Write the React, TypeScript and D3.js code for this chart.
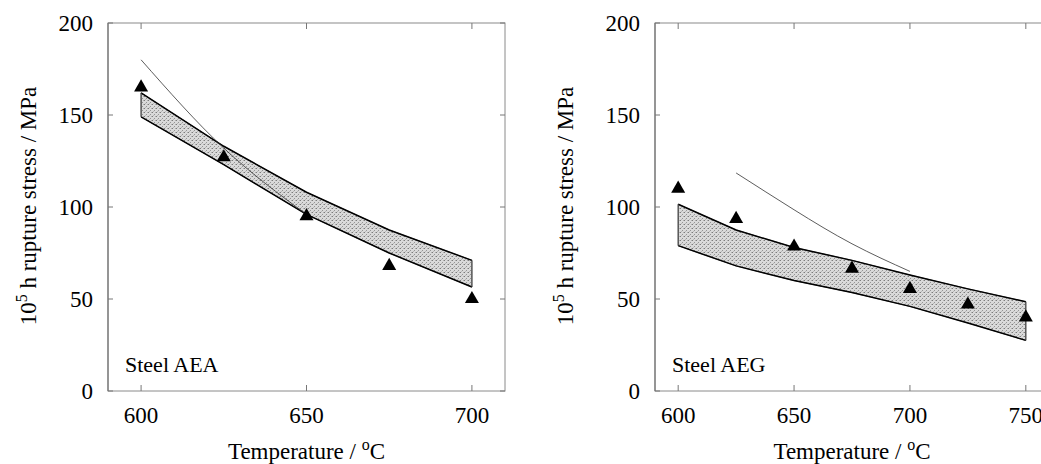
import React from "react";
import * as d3 from "d3";

// temperatures (°C) and 10^5 h rupture stress (MPa)
const aeaTemps = [600, 625, 650, 675, 700];
const aeaPoints = [165, 127, 95, 68, 50];
const aeaUpper = [162, 133, 108, 87.5, 71];
const aeaLower = [149, 123, 96, 75, 56.5];
const aeaLineTemps = [600, 625, 650];
const aeaLine = [180, 132, 96];

const aegTemps = [600, 625, 650, 675, 700, 725, 750];
const aegPoints = [110, 93.5, 78.5, 66.5, 55.5, 47, 40];
const aegUpper = [101.5, 87.5, 78, 71, 63, 55.5, 48.5];
const aegLower = [79, 68, 60, 53.5, 46, 37, 27.5];
const aegLineTemps = [625, 650, 675, 700];
const aegLine = [118.5, 98.5, 80, 65];

const yTicks = [0, 50, 100, 150, 200];
const aeaXTicks = [600, 650, 700];
const aegXTicks = [600, 650, 700, 750];

const FONT = "Liberation Serif, serif";
const txt = { fontFamily: FONT };

type PanelProps = {
  x0: number;
  x1: number;
  domain: [number, number];
  temps: number[];
  points: number[];
  upper: number[];
  lower: number[];
  lineTemps: number[];
  line: number[];
  xTicks: number[];
  label: string;
  yTitleX: number;
  id: string;
};

function Panel(props: PanelProps) {
  const { x0, x1, domain, temps, points, upper, lower, lineTemps, line, xTicks, label, yTitleX, id } = props;
  const top = 23;
  const bottom = 391;

  const x = d3.scaleLinear().domain(domain).range([x0, x1]);
  const y = d3.scaleLinear().domain([0, 200]).range([bottom, top]);

  const band = d3
    .area<number>()
    .x((_, i) => x(temps[i]))
    .y0((_, i) => y(lower[i]))
    .y1((d) => y(d));

  const edge = (vals: number[]) =>
    d3
      .line<number>()
      .x((_, i) => x(temps[i]))
      .y((d) => y(d))(vals) || "";

  const thin =
    d3
      .line<number>()
      .x((_, i) => x(lineTemps[i]))
      .y((d) => y(d))
      .curve(d3.curveNatural)(line) || "";

  const tri = d3.symbol().type(d3.symbolTriangle).size(85)() || "";
  const last = temps.length - 1;

  return (
    <g>
      <defs>
        <pattern id={"stip" + id} width="4" height="4" patternUnits="userSpaceOnUse">
          <rect width="4" height="4" fill="#dadada" />
          <rect x="0" y="0" width="1" height="1" fill="#7c7c7c" />
          <rect x="2" y="2" width="1" height="1" fill="#959595" />
          <rect x="3" y="0" width="1" height="1" fill="#b0b0b0" />
          <rect x="1" y="3" width="1" height="1" fill="#b8b8b8" />
        </pattern>
      </defs>

      {/* frame */}
      <rect x={x0} y={top} width={x1 - x0} height={bottom - top} fill="none" stroke="#8a8a8a" strokeWidth={1} />
      <line x1={x0} y1={top} x2={x0} y2={bottom} stroke="#666" strokeWidth={1} />

      {/* ticks, pointing inwards */}
      {yTicks.map((t) => (
        <g key={"y" + t}>
          <line x1={x0} x2={x0 + 5} y1={y(t)} y2={y(t)} stroke="#777" />
          <line x1={x1} x2={x1 - 5} y1={y(t)} y2={y(t)} stroke="#777" />
          <text x={x0 - 15} y={y(t) + 8} textAnchor="end" fontSize={23} style={txt}>
            {t}
          </text>
        </g>
      ))}
      {xTicks.map((t) => (
        <g key={"x" + t}>
          <line x1={x(t)} x2={x(t)} y1={bottom} y2={bottom - 6} stroke="#777" />
          <line x1={x(t)} x2={x(t)} y1={top} y2={top + 6} stroke="#777" />
          <text x={x(t)} y={423} textAnchor="middle" fontSize={23} style={txt}>
            {t}
          </text>
        </g>
      ))}

      {/* scatter band */}
      <path d={band(upper) || ""} fill={"url(#stip" + id + ")"} stroke="#555" strokeWidth={0.8} />
      <path d={edge(upper)} fill="none" stroke="#000" strokeWidth={1.5} />
      <path d={edge(lower)} fill="none" stroke="#000" strokeWidth={1.5} />
      <line x1={x(temps[0])} x2={x(temps[0])} y1={y(upper[0])} y2={y(lower[0])} stroke="#444" strokeWidth={1} />
      <line x1={x(temps[last])} x2={x(temps[last])} y1={y(upper[last])} y2={y(lower[last])} stroke="#444" strokeWidth={1} />

      {/* thin curve */}
      <path d={thin} fill="none" stroke="#333" strokeWidth={0.8} />

      {/* measured points */}
      {points.map((v, i) => (
        <path key={i} d={tri} transform={`translate(${x(temps[i])},${y(v)})`} fill="#000" />
      ))}

      <text x={x0 + 17} y={372} fontSize={22} style={txt}>
        {label}
      </text>

      <text x={(x0 + x1) / 2} y={459} textAnchor="middle" fontSize={23} style={txt}>
        Temperature / <tspan dy={-9} fontSize={16}>o</tspan>
        <tspan dy={9}>C</tspan>
      </text>

      <text
        transform={`translate(${yTitleX},${(top + bottom) / 2 - 1}) rotate(-90)`}
        textAnchor="middle"
        fontSize={23}
        style={txt}
      >
        10<tspan dy={-9} fontSize={16}>5</tspan>
        <tspan dy={9}> h rupture stress / MPa</tspan>
      </text>
    </g>
  );
}

export default function App() {
  return (
    <svg width={1041} height={464} style={{ position: "absolute", left: 0, top: 0, background: "#fff" }}>
      <Panel
        id="a"
        x0={108}
        x1={505}
        domain={[590, 710]}
        temps={aeaTemps}
        points={aeaPoints}
        upper={aeaUpper}
        lower={aeaLower}
        lineTemps={aeaLineTemps}
        line={aeaLine}
        xTicks={aeaXTicks}
        label="Steel AEA"
        yTitleX={36}
      />
      <Panel
        id="b"
        x0={655}
        x1={1049}
        domain={[590, 760]}
        temps={aegTemps}
        points={aegPoints}
        upper={aegUpper}
        lower={aegLower}
        lineTemps={aegLineTemps}
        line={aegLine}
        xTicks={aegXTicks}
        label="Steel AEG"
        yTitleX={573}
      />
    </svg>
  );
}
